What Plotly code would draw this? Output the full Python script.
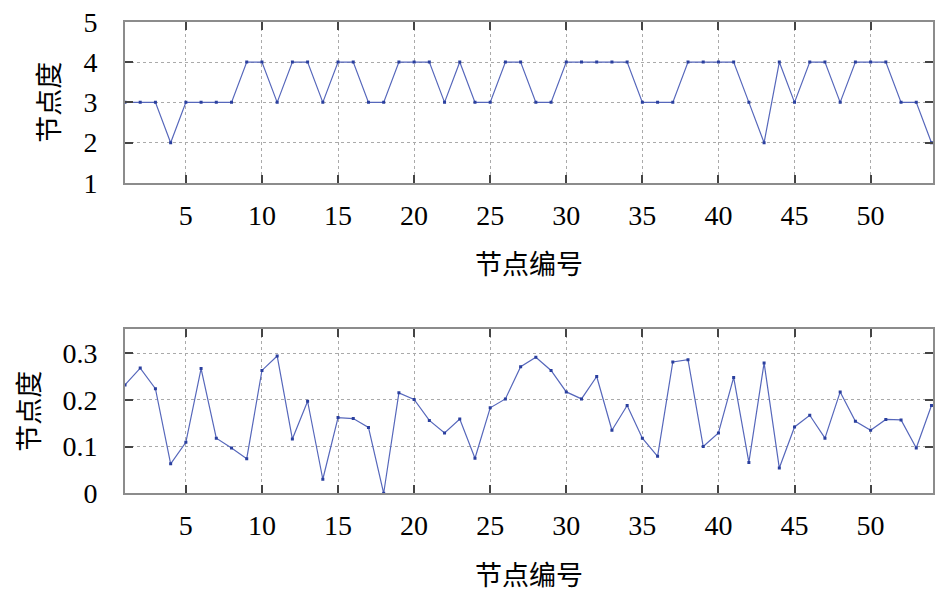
import plotly.graph_objects as go
from plotly.subplots import make_subplots

node_ids = list(range(1, 55))

node_degree = [3, 3, 3, 2, 3, 3, 3, 3, 4, 4,
               3, 4, 4, 3, 4, 4, 3, 3, 4, 4,
               4, 3, 4, 3, 3, 4, 4, 3, 3, 4,
               4, 4, 4, 4, 3, 3, 3, 4, 4, 4,
               4, 3, 2, 4, 3, 4, 4, 3, 4, 4,
               4, 3, 3, 2]

node_degree_norm = [0.232, 0.268, 0.224, 0.063, 0.109, 0.267, 0.118, 0.097, 0.074, 0.263,
                    0.294, 0.116, 0.197, 0.030, 0.162, 0.160, 0.141, 0.000, 0.215, 0.201,
                    0.156, 0.129, 0.159, 0.075, 0.183, 0.202, 0.271, 0.291, 0.263, 0.217,
                    0.202, 0.250, 0.135, 0.188, 0.118, 0.079, 0.281, 0.286, 0.100, 0.129,
                    0.248, 0.066, 0.279, 0.054, 0.142, 0.167, 0.118, 0.217, 0.154, 0.135,
                    0.158, 0.157, 0.097, 0.188]

x_ticks = [5, 10, 15, 20, 25, 30, 35, 40, 45, 50]
top_y_ticks = [1, 2, 3, 4, 5]
bottom_y_ticks = [0, 0.1, 0.2, 0.3]

LINE_COLOR = "#5667bb"
MARKER_COLOR = "#2a3f9e"
FONT = "Liberation Serif, Times New Roman, Noto Sans CJK SC"
CJK = "Noto Sans CJK SC"

fig = make_subplots(rows=2, cols=1)

for row, vals in ((1, node_degree), (2, node_degree_norm)):
    fig.add_trace(go.Scatter(
        x=node_ids,
        y=vals,
        mode='lines+markers',
        line=dict(color=LINE_COLOR, width=1.2),
        marker=dict(size=3, symbol='square', color=MARKER_COLOR),
        showlegend=False
    ), row=row, col=1)

axis_style = dict(
    automargin=False,
    showline=True,
    linecolor='#8c8c8c',
    linewidth=2,
    mirror='ticks',
    ticks='inside',
    ticklen=8,
    tickwidth=2,
    tickcolor='#444444',
    showgrid=True,
    gridcolor='#aaaaaa',
    griddash='dot',
    gridwidth=1,
    zeroline=False,
    ticklabeloverflow='allow',
    tickfont=dict(family=FONT, size=28, color='black'),
)

for row in (1, 2):
    fig.update_xaxes(
        range=[1, 54.1],
        tickvals=x_ticks,
        ticklabelstandoff=6,
        title=dict(text="节点编号", font=dict(family=CJK, size=27, color='black'), standoff=26),
        row=row, col=1, **axis_style
    )

fig.update_yaxes(
    range=[1, 5],
    tickvals=top_y_ticks,
    ticklabelstandoff=20,
    title=dict(text="节点度", font=dict(family=CJK, size=27, color='black'), standoff=16),
    row=1, col=1, **axis_style
)
fig.update_yaxes(
    range=[0, 0.351],
    tickvals=bottom_y_ticks,
    ticktext=['0', '0.1', '0.2', '0.3'],
    ticklabelstandoff=20,
    title=dict(text="节点度", font=dict(family=CJK, size=27, color='black'), standoff=20),
    row=2, col=1, **axis_style
)

fig.update_layout(
    width=945,
    height=591,
    template='plotly_white',
    plot_bgcolor='white',
    paper_bgcolor='white',
    margin=dict(l=117, r=20, t=0, b=0),
    xaxis=dict(domain=[0, 1]),
    yaxis=dict(domain=[0.7039, 0.9768]),
    xaxis2=dict(domain=[0, 1]),
    yaxis2=dict(domain=[0.1789, 0.4563]),
)

fig.write_html("out.html")
